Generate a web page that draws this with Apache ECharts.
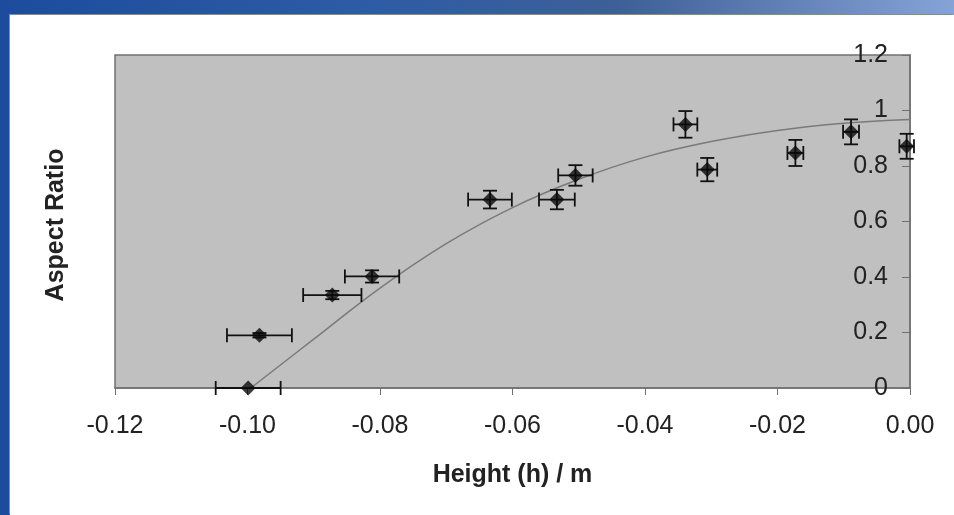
<!DOCTYPE html>
<html>
<head>
    <meta charset="utf-8">
    <title>Aspect Ratio vs Height</title>
    <script src="https://cdn.jsdelivr.net/npm/echarts@6/dist/echarts.min.js"></script>
    <style>
        body { margin: 0; }
        #frame {
            position: relative; width: 954px; height: 515px;
            background: linear-gradient(to right, #1d4c9e 0%, #2f5ca6 40%, #3e5f97 65%, #86a3d6 100%);
        }
        #main {
            position: absolute; left: 10px; top: 15px; width: 944px; height: 500px;
            background: #fff; box-shadow: -1px -1px 0 #8a8a8a;
        }
    </style>
</head>
<body>
    <div id="frame"><div id="main"></div></div>

    <script type="text/javascript">

        // 测量点：高度 h (m)、纵横比，以及两个方向的误差
        var heights = [-0.0999, -0.0982, -0.0872, -0.0812, -0.0634, -0.0533, -0.0505, -0.0339, -0.0306, -0.0173, -0.0089, -0.0005];
        var ratios  = [0.000, 0.190, 0.335, 0.402, 0.679, 0.679, 0.766, 0.950, 0.787, 0.847, 0.923, 0.871];
        var hErr    = [0.0049, 0.0049, 0.0044, 0.0041, 0.0033, 0.0027, 0.0026, 0.0018, 0.0015, 0.0012, 0.0012, 0.0011];
        var rErr    = [0.000, 0.008, 0.015, 0.022, 0.032, 0.035, 0.037, 0.048, 0.042, 0.047, 0.045, 0.045];

        // 趋势线（从图上读出的点）
        var fitX = [-0.0995, -0.09, -0.08, -0.07, -0.06, -0.05, -0.04, -0.03, -0.02, -0.01, 0.00];
        var fitY = [0.000, 0.176, 0.360, 0.520, 0.650, 0.752, 0.832, 0.888, 0.928, 0.954, 0.968];

        var points = [], bars = [], fit = [];
        for (var i = 0; i < heights.length; i++) {
            points.push([heights[i], ratios[i]]);
            bars.push([heights[i], ratios[i], hErr[i], rErr[i]]);
        }
        for (var j = 0; j < fitX.length; j++) {
            fit.push([fitX[j], fitY[j]]);
        }

        var font = '"Liberation Sans", Arial, sans-serif';
        var cap = 7;

        function errorBars(params, api) {
            var x = api.value(0), y = api.value(1), dx = api.value(2), dy = api.value(3);
            var l = api.coord([x - dx, y]), r = api.coord([x + dx, y]);
            var t = api.coord([x, y + dy]), b = api.coord([x, y - dy]);
            var style = { stroke: '#111', lineWidth: 1.8 };
            var kids = [];
            if (dx > 0) {
                kids.push({ type: 'line', shape: { x1: l[0], y1: l[1], x2: r[0], y2: r[1] }, style: style });
                kids.push({ type: 'line', shape: { x1: l[0], y1: l[1] - cap, x2: l[0], y2: l[1] + cap }, style: style });
                kids.push({ type: 'line', shape: { x1: r[0], y1: r[1] - cap, x2: r[0], y2: r[1] + cap }, style: style });
            }
            if (dy > 0) {
                kids.push({ type: 'line', shape: { x1: t[0], y1: t[1], x2: b[0], y2: b[1] }, style: style });
                kids.push({ type: 'line', shape: { x1: t[0] - cap, y1: t[1], x2: t[0] + cap, y2: t[1] }, style: style });
                kids.push({ type: 'line', shape: { x1: b[0] - cap, y1: b[1], x2: b[0] + cap, y2: b[1] }, style: style });
            }
            return { type: 'group', children: kids };
        }

        var myChart = echarts.init(document.getElementById('main'));

        var option = {
            animation: false,
            grid: {
                left: 105, right: 44, top: 40, bottom: 127,
                show: true, backgroundColor: '#c0c0c0',
                borderColor: '#707070', borderWidth: 1.5
            },
            xAxis: {
                type: 'value', min: -0.12, max: 0, interval: 0.02,
                name: 'Height (h) / m', nameLocation: 'middle', nameGap: 75,
                nameTextStyle: { fontFamily: font, fontSize: 25, fontWeight: 'bold', color: '#222' },
                axisLine: { lineStyle: { color: '#707070', width: 1.5 } },
                axisTick: { length: 7, lineStyle: { color: '#707070' } },
                axisLabel: {
                    margin: 26, fontFamily: font, fontSize: 25, color: '#222',
                    formatter: function (v) { return v.toFixed(2); }
                },
                splitLine: { show: false }
            },
            yAxis: {
                type: 'value', position: 'right', min: 0, max: 1.2, interval: 0.2,
                axisLine: { show: true, lineStyle: { color: '#707070', width: 1.5 } },
                axisTick: { show: true, inside: true, length: 8, lineStyle: { color: '#707070' } },
                axisLabel: {
                    inside: true, margin: 22, fontFamily: font, fontSize: 25, color: '#222',
                    formatter: function (v) { return String(+v.toFixed(1)); }
                },
                splitLine: { show: false }
            },
            graphic: [{
                type: 'text', x: 46, y: 210, rotation: Math.PI / 2,
                style: {
                    text: 'Aspect Ratio', font: 'bold 25px ' + font, fill: '#222',
                    textAlign: 'center', textVerticalAlign: 'middle'
                }
            }],
            series: [
                {
                    name: 'fit', type: 'line', data: fit, smooth: 0.4,
                    symbol: 'none', lineStyle: { color: '#7a7a7a', width: 1.5 }, z: 1
                },
                {
                    name: 'error', type: 'custom', data: bars, renderItem: errorBars, z: 2,
                    encode: { x: 0, y: 1 }
                },
                {
                    name: 'Aspect Ratio', type: 'scatter', data: points, symbol: 'diamond',
                    symbolSize: 15, itemStyle: { color: '#0a0a0a' }, z: 3
                }
            ]
        };

        myChart.setOption(option);
    </script>
</body>
</html>
